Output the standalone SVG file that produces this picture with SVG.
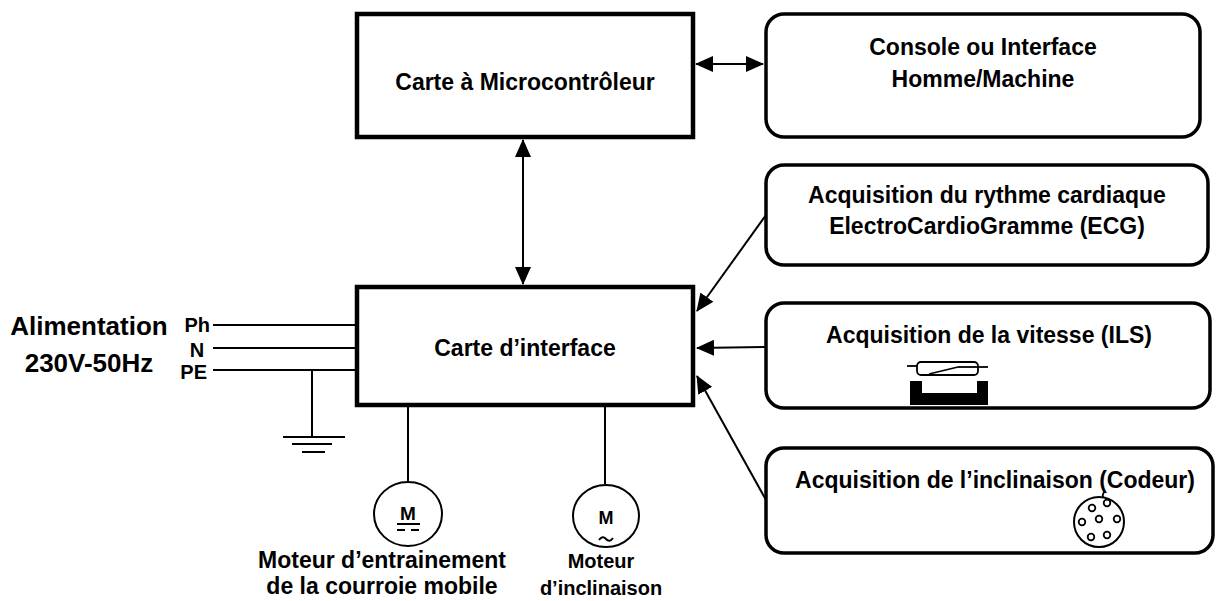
<svg xmlns="http://www.w3.org/2000/svg" width="1217" height="601" viewBox="0 0 1217 601">
<style>
text{font-family:"Liberation Sans",Arial,sans-serif;font-weight:bold;fill:#000;text-anchor:middle}
.t{font-size:23px}
.big{font-size:26px}
.sm{font-size:20px}
.box{fill:#fff;stroke:#000;stroke-width:4.5}
.rbox{fill:#fff;stroke:#000;stroke-width:3.5}
.ln{fill:none;stroke:#000;stroke-width:2}
.thin{fill:none;stroke:#000;stroke-width:1.8}
</style>
<defs>
<marker id="ah" markerUnits="userSpaceOnUse" markerWidth="18" markerHeight="16" refX="17" refY="8" orient="auto-start-reverse">
<path d="M0,0 L18,8 L0,16 Z" fill="#000"/>
</marker>
</defs>

<g id="connectors">
<line class="ln" x1="696" y1="64" x2="763" y2="64" marker-start="url(#ah)" marker-end="url(#ah)"/>
<line class="ln" x1="523" y1="140" x2="523" y2="284" marker-start="url(#ah)" marker-end="url(#ah)"/>
<line class="ln" x1="766" y1="215" x2="697" y2="311" marker-end="url(#ah)"/>
<line class="ln" x1="766" y1="347" x2="697" y2="348" marker-end="url(#ah)"/>
<line class="ln" x1="766" y1="500" x2="697" y2="376" marker-end="url(#ah)"/>
<line class="ln" x1="213" y1="325" x2="357" y2="325"/>
<line class="ln" x1="213" y1="348" x2="357" y2="348"/>
<line class="ln" x1="213" y1="370" x2="357" y2="370"/>
<line class="ln" x1="312" y1="370" x2="312" y2="437"/>
<line class="ln" x1="408" y1="405" x2="408" y2="482"/>
<line class="ln" x1="605" y1="405" x2="605" y2="484"/>
</g>

<g id="ground">
<line class="ln" x1="283" y1="437" x2="345" y2="437"/>
<line class="ln" x1="292" y1="444" x2="332" y2="444"/>
<line class="ln" x1="302" y1="452" x2="325" y2="452"/>
</g>

<g id="alimentation">
<text class="big" x="89" y="335">Alimentation</text>
<text class="big" x="89" y="372">230V-50Hz</text>
<text class="sm" x="210" y="332" style="text-anchor:end">Ph</text>
<text class="sm" x="197" y="357">N</text>
<text class="sm" x="207" y="379" style="text-anchor:end">PE</text>
</g>

<g id="microcontroleur">
<rect class="box" x="357" y="14" width="336" height="123"/>
<text class="t" x="525" y="90">Carte à Microcontrôleur</text>
</g>

<g id="console">
<rect class="rbox" x="766" y="14" width="434" height="123" rx="18"/>
<text class="t" x="983" y="55">Console ou Interface</text>
<text class="t" x="983" y="87">Homme/Machine</text>
</g>

<g id="ecg">
<rect class="rbox" x="766" y="165" width="442" height="100" rx="18"/>
<text class="t" x="987" y="203">Acquisition du rythme cardiaque</text>
<text class="t" x="987" y="234">ElectroCardioGramme (ECG)</text>
</g>

<g id="ils">
<rect class="rbox" x="766" y="303" width="444" height="105" rx="18"/>
<text class="t" x="989" y="343">Acquisition de la vitesse (ILS)</text>
<line class="thin" x1="907" y1="366" x2="917" y2="366"/>
<rect class="thin" x="917" y="362" width="61" height="13" rx="4"/>
<line class="thin" x1="929" y1="374" x2="958" y2="367"/>
<line class="thin" x1="958" y1="367" x2="988" y2="367"/>
<path d="M910,381 H922 V393 H977 V381 H988 V405 H910 Z" fill="#000"/>
</g>

<g id="codeur">
<rect class="rbox" x="766" y="448" width="447" height="105" rx="18"/>
<text class="t" x="995" y="488">Acquisition de l’inclinaison (Codeur)</text>
<path class="thin" d="M1104,492 Q1102,495 1103,498"/>
<circle class="ln" cx="1099" cy="522" r="25"/>
<g class="thin">
<circle cx="1092" cy="508" r="3.3"/>
<circle cx="1107" cy="503" r="3.3"/>
<circle cx="1082" cy="522" r="3.3"/>
<circle cx="1099" cy="519" r="3.3"/>
<circle cx="1117" cy="519" r="3.3"/>
<circle cx="1091" cy="537" r="3.3"/>
<circle cx="1107" cy="535" r="3.3"/>
</g>
</g>

<g id="interface">
<rect class="box" x="357" y="287" width="336" height="118"/>
<text class="t" x="525" y="356">Carte d’interface</text>
</g>

<g id="moteur1">
<ellipse class="ln" cx="408" cy="514" rx="34" ry="32"/>
<text x="408" y="520" style="font-size:19px">M</text>
<line class="ln" x1="397" y1="524" x2="420" y2="524"/>
<line class="ln" x1="397" y1="530" x2="405" y2="530"/>
<line class="ln" x1="411" y1="530" x2="419" y2="530"/>
<text class="t" x="382" y="568">Moteur d’entrainement</text>
<text class="t" x="382" y="594">de la courroie mobile</text>
</g>

<g id="moteur2">
<ellipse class="ln" cx="606" cy="516" rx="33" ry="31"/>
<text x="606" y="524" style="font-size:18px">M</text>
<path class="ln" d="M599,540 Q602.5,535 606,539 Q609.5,543 613,538"/>
<text x="601" y="568" style="font-size:20px">Moteur</text>
<text x="601" y="595" style="font-size:20px">d’inclinaison</text>
</g>
</svg>
